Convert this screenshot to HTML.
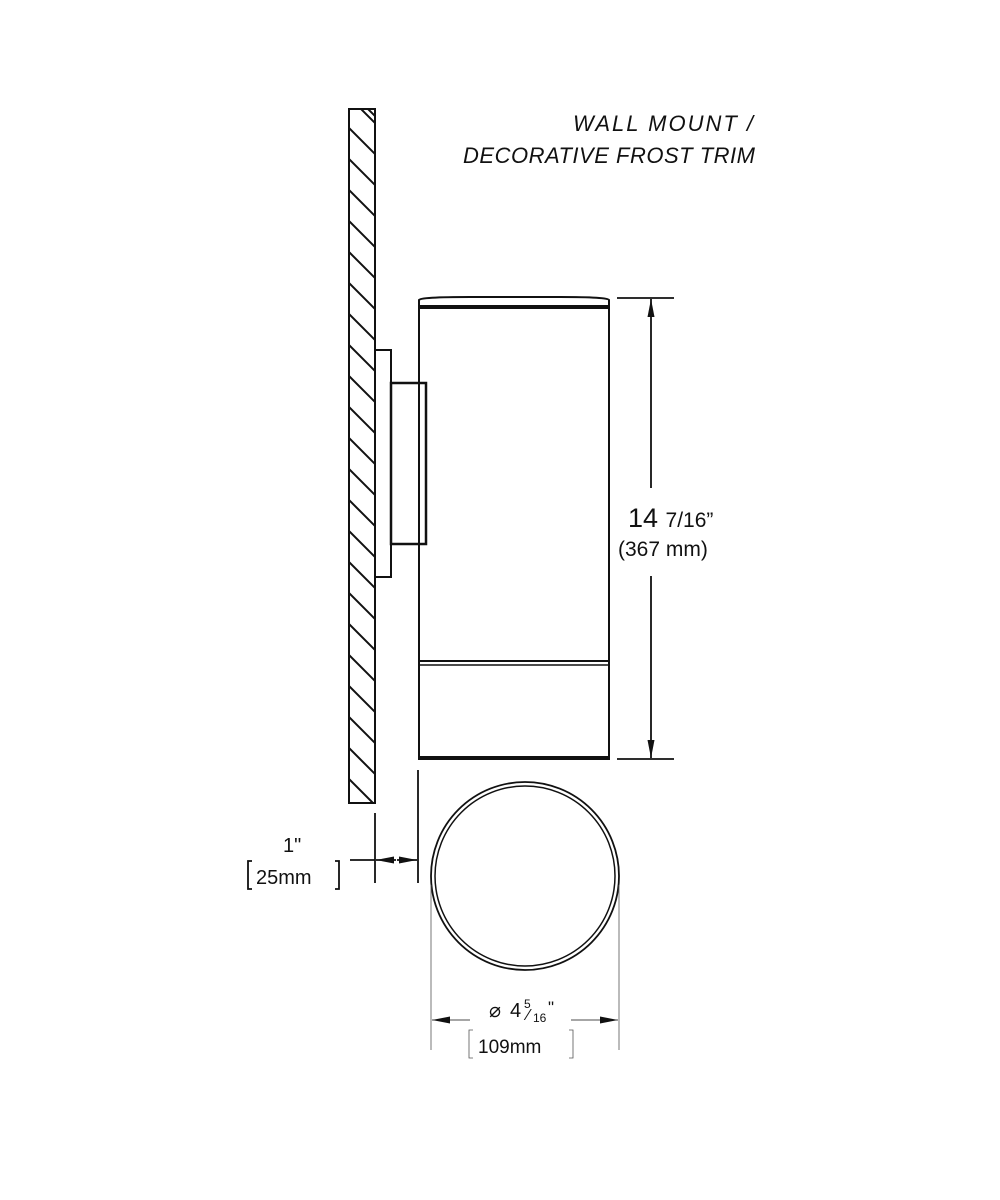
<!DOCTYPE html>
<html><head><meta charset="utf-8"><style>
html,body{margin:0;padding:0;background:#fff;}
svg{display:block;}
text{font-family:"Liberation Sans",sans-serif;fill:#111;}
</style></head><body>
<svg width="1000" height="1200" viewBox="0 0 1000 1200" xmlns="http://www.w3.org/2000/svg">
<defs>
<clipPath id="wc"><rect x="349" y="109" width="26" height="694"/></clipPath>
<marker id="ar" viewBox="0 0 18 8" refX="18" refY="4" markerWidth="18" markerHeight="8" orient="auto-start-reverse" markerUnits="userSpaceOnUse"><path d="M0,0.5 L18,4 L0,7.5 z" fill="#111"/></marker>
</defs>
<text x="753" y="131" font-size="22" font-style="italic" text-anchor="end" textLength="180">WALL MOUNT /</text>
<text x="755" y="163" font-size="22" font-style="italic" text-anchor="end" textLength="292">DECORATIVE FROST TRIM</text>

<g clip-path="url(#wc)" stroke="#111" stroke-width="2">
<path d="M349,97 l30,30 M349,128 l30,30 M349,159 l30,30 M349,190 l30,30 M349,221 l30,30 M349,252 l30,30 M349,283 l30,30 M349,314 l30,30 M349,345 l30,30 M349,376 l30,30 M349,407 l30,30 M349,438 l30,30 M349,469 l30,30 M349,500 l30,30 M349,531 l30,30 M349,562 l30,30 M349,593 l30,30 M349,624 l30,30 M349,655 l30,30 M349,686 l30,30 M349,717 l30,30 M349,748 l30,30 M349,779 l30,30 M368,109 l10,10"/>
</g>
<rect x="349" y="109" width="26" height="694" fill="none" stroke="#111" stroke-width="2"/>

<rect x="375" y="350" width="16" height="227" fill="none" stroke="#111" stroke-width="2"/>
<rect x="391" y="383" width="35" height="161" fill="none" stroke="#111" stroke-width="2.5"/>

<rect x="419" y="306" width="190" height="453" fill="none" stroke="#111" stroke-width="2"/>
<path d="M419,300 Q420,297 470,297 L560,297 Q608,297 609,300 L609,308 L419,308 Z" fill="none" stroke="#111" stroke-width="2"/>
<line x1="419" y1="661" x2="609" y2="661" stroke="#111" stroke-width="2"/>
<line x1="419" y1="665" x2="609" y2="665" stroke="#111" stroke-width="1.5"/>
<line x1="419" y1="757" x2="609" y2="757" stroke="#111" stroke-width="2"/>

<g stroke="#111" stroke-width="1.8" fill="none">
<line x1="617" y1="298" x2="674" y2="298"/>
<line x1="617" y1="759" x2="674" y2="759"/>
<line x1="651" y1="488" x2="651" y2="299" marker-end="url(#ar)"/>
<line x1="651" y1="576" x2="651" y2="758" marker-end="url(#ar)"/>
</g>
<text x="628" y="527" font-size="27">14 <tspan font-size="21">7/16”</tspan></text>
<text x="618" y="556" font-size="21">(367 mm)</text>

<circle cx="525" cy="876" r="94" fill="none" stroke="#111" stroke-width="1.8"/>
<circle cx="525" cy="876" r="90" fill="none" stroke="#111" stroke-width="1.5"/>

<g stroke="#555" stroke-width="0.8" fill="none">
<line x1="431" y1="885" x2="431" y2="1050"/>
<line x1="619" y1="885" x2="619" y2="1050"/>
<line x1="470" y1="1020" x2="432" y2="1020" stroke="#111" marker-end="url(#ar)"/>
<line x1="571" y1="1020" x2="618" y2="1020" stroke="#111" marker-end="url(#ar)"/>
<path d="M473,1030 h-4 v28 h4 M569,1030 h4 v28 h-4"/>
</g>
<text x="489" y="1017" font-size="20" fill="#444">⌀</text>
<text x="510" y="1017" font-size="20">4</text>
<text x="524" y="1008" font-size="12">5</text>
<text x="527" y="1020" font-size="16" fill="#555">⁄</text>
<text x="533" y="1022" font-size="12">16</text>
<text x="548" y="1013" font-size="17">"</text>
<text x="478" y="1053" font-size="19">109mm</text>

<g stroke="#111" stroke-width="1.8" fill="none">
<line x1="375" y1="813" x2="375" y2="883"/>
<line x1="418" y1="770" x2="418" y2="883"/>
<line x1="350" y1="860" x2="375" y2="860"/>
<line x1="396" y1="860" x2="376" y2="860" marker-end="url(#ar)"/>
<line x1="397" y1="860" x2="417" y2="860" marker-end="url(#ar)"/>
<path d="M252,861 h-4 v28 h4 M335,861 h4 v28 h-4"/>
</g>
<text x="283" y="852" font-size="20">1"</text>
<text x="256" y="884" font-size="20">25mm</text>
</svg>
</body></html>
